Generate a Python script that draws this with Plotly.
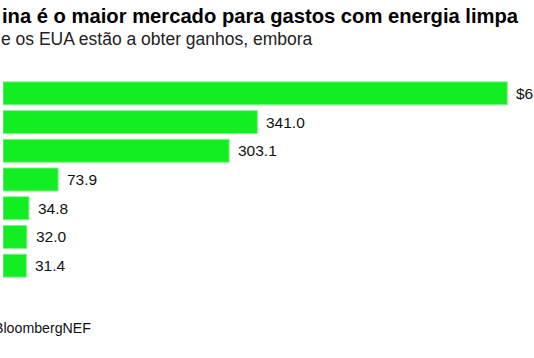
import plotly.graph_objects as go

# ---- data ----
categories = ["China", "UE", "EUA", "Reino Unido", "França", "Japão", "Índia"]
values = [676.0, 341.0, 303.1, 73.9, 34.8, 32.0, 31.4]
value_labels = [("$" if i == 0 else "") + f"{v:.1f}" for i, v in enumerate(values)]

title_text = "ina é o maior mercado para gastos com energia limpa"
subtitle_text = "e os EUA estão a obter ganhos, embora"
source_text = "BloombergNEF"

W, H = 534, 358
ML, MR, MT, MB = 3, 0, 79, 78
PW, PH = W - ML - MR, H - MT - MB
px_per_unit = 0.746

def px_y(py):
    return (H - MB - py) / PH

def px_x(px):
    return (px - ML) / PW

BAR = "#13ee22"
EDGE = "#86f28a"
FONT = "Liberation Sans, Arial, Helvetica, sans-serif"

fig = go.Figure(go.Bar(
    x=values, y=categories, orientation="h",
    marker=dict(color=BAR, line=dict(color=EDGE, width=1)),
    hoverinfo="skip",
))

annotations = []
for v, c, lab in zip(values, categories, value_labels):
    annotations.append(dict(x=v, y=c, xref="x", yref="y", text=lab, showarrow=False,
                            xanchor="left", yanchor="middle", xshift=7,
                            font=dict(family=FONT, size=15.5, color="#111111")))

annotations += [
    dict(x=px_x(0), y=px_y(16), xref="paper", yref="paper", text=f"<b>{title_text}</b>",
         showarrow=False, xanchor="left", yanchor="middle",
         font=dict(family=FONT, size=20.2, color="#000000")),
    dict(x=px_x(-1), y=px_y(39), xref="paper", yref="paper", text=subtitle_text,
         showarrow=False, xanchor="left", yanchor="middle",
         font=dict(family=FONT, size=17.5, color="#222222")),
    dict(x=px_x(-8), y=px_y(328), xref="paper", yref="paper", text=source_text,
         showarrow=False, xanchor="left", yanchor="middle",
         font=dict(family=FONT, size=14.2, color="#111111")),
]

fig.update_layout(
    width=W, height=H,
    margin=dict(l=ML, r=MR, t=MT, b=MB, pad=0),
    paper_bgcolor="white", plot_bgcolor="white",
    bargap=0.2, showlegend=False,
    xaxis=dict(range=[0, PW / px_per_unit], visible=False, fixedrange=True),
    yaxis=dict(autorange="reversed", visible=False, fixedrange=True),
    annotations=annotations,
)

fig.write_html("out.html", config={"displayModeBar": False},
               post_script="document.body.style.margin='0px';document.body.style.overflow='hidden';")
